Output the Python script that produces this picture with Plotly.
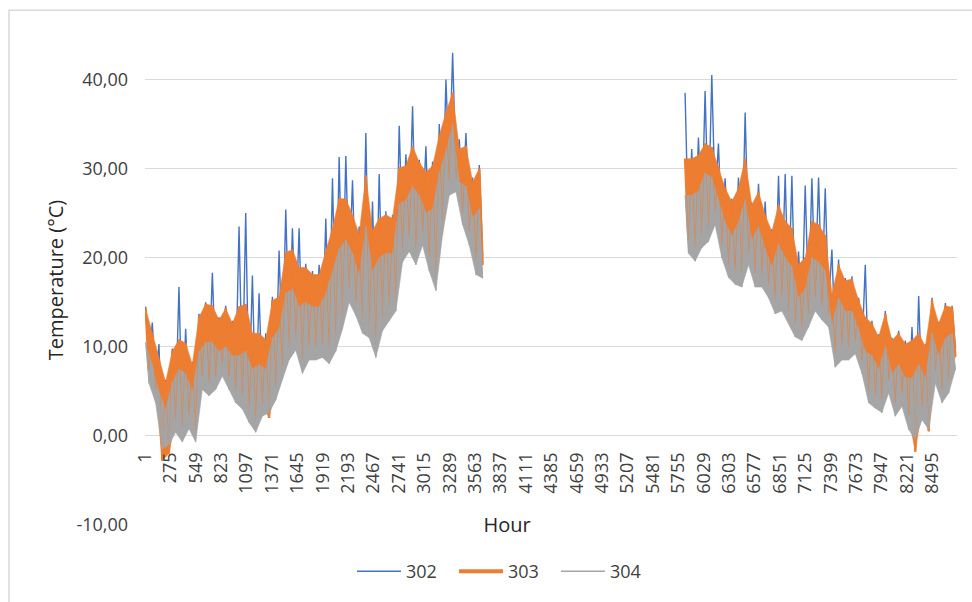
import plotly.graph_objects as go

# ---- data: per 72-hour block, upper and lower envelope ----
BLOCK = 72
seg1_start = 1
seg2_start = 5821

seg1_302_max = [14.5, 12.7, 10.3, 6.3, 9.8, 16.7, 12.0, 8.3, 13.7, 15.0, 18.3, 13.3, 14.6, 12.9, 23.5, 25.0, 18.0, 16.0, 11.5, 15.6,
                20.8, 25.4, 23.3, 23.3, 19.3, 18.5, 19.2, 24.4, 28.9, 31.3, 31.4, 28.7, 23.5, 34.0, 26.3, 29.4, 25.2, 24.8, 34.8, 31.6,
                37.0, 31.0, 32.5, 30.8, 35.0, 40.0, 43.0, 33.3, 34.0, 29.0, 30.4]
seg1_302_min = [8.4, 6.2, -1.5, -0.5, 2.9, 1.8, 3.3, 1.8, 7.7, 7.0, 7.7, 9.2, 7.7, 6.2, 5.5, 4.0, 2.9, 4.7, 3.6, 6.5,
                8.8, 11.0, 12.1, 9.5, 11.0, 11.0, 11.3, 10.6, 12.0, 14.5, 17.5, 16.0, 14.0, 13.5, 11.3, 14.3, 15.4, 16.5, 22.0, 23.2,
                21.7, 23.9, 21.0, 18.8, 25.1, 29.5, 29.9, 26.2, 23.9, 20.6, 20.2]
seg1_303_max = [14.3, 11.5, 8.5, 6.0, 9.5, 10.8, 10.4, 8.0, 13.3, 14.8, 14.6, 13.0, 14.3, 12.6, 14.5, 14.8, 11.5, 11.5, 10.8, 15.2,
                15.6, 20.6, 20.9, 18.9, 18.9, 18.1, 18.1, 20.7, 23.3, 26.6, 26.6, 24.8, 22.6, 29.2, 23.0, 24.4, 24.8, 24.4, 30.1, 30.3,
                32.5, 30.7, 29.6, 30.3, 33.7, 36.3, 38.5, 32.2, 32.5, 28.5, 30.0]
seg1_303_min = [7.4, 5.2, -2.8, -2.0, 1.9, 0.8, 2.3, 0.8, 6.7, 6.0, 6.7, 8.2, 6.7, 5.2, 4.5, 3.0, 1.9, 3.7, 2.0, 5.5,
                7.8, 10.0, 11.1, 8.5, 10.0, 10.0, 10.3, 9.6, 11.0, 13.5, 16.5, 15.0, 13.0, 12.5, 10.3, 13.3, 14.4, 15.5, 21.0, 22.2,
                20.7, 22.9, 20.0, 17.8, 24.1, 28.5, 28.9, 25.2, 22.9, 19.6, 19.2]
seg1_304_max = [10.5, 8.0, 5.0, 3.0, 6.0, 7.5, 7.0, 5.0, 9.5, 10.5, 10.5, 9.5, 10.0, 9.0, 9.0, 9.5, 7.5, 8.0, 7.5, 11.0,
                12.0, 16.0, 16.5, 14.5, 15.0, 14.5, 14.5, 16.0, 18.5, 21.0, 22.0, 20.5, 18.0, 23.5, 18.5, 20.0, 20.5, 20.5, 26.0, 26.5,
                28.0, 27.0, 25.0, 25.5, 29.5, 32.0, 35.0, 28.5, 28.0, 24.5, 25.5]
seg1_304_min = [5.9, 3.7, -1.5, -1.0, 0.4, -0.7, 0.8, -0.7, 5.2, 4.5, 5.2, 6.7, 5.2, 3.7, 3.0, 1.5, 0.4, 2.2, 2.6, 4.0,
                6.3, 8.5, 9.6, 7.0, 8.5, 8.5, 8.8, 8.1, 9.5, 12.0, 15.0, 13.5, 11.5, 11.0, 8.8, 11.8, 12.9, 14.0, 19.5, 20.7,
                19.2, 21.4, 18.5, 16.3, 22.6, 27.0, 27.4, 23.7, 21.4, 18.1, 17.7]

seg2_302_max = [38.5, 32.2, 33.5, 38.7, 40.5, 32.8, 28.9, 26.6, 29.0, 36.3, 26.2, 28.3, 26.3, 23.2, 29.2, 29.4, 29.2, 20.7, 28.1, 28.9,
                29.0, 27.8, 20.9, 19.8, 17.7, 17.9, 15.5, 19.2, 12.9, 11.4, 14.0, 11.0, 11.8, 10.7, 12.2, 15.7, 10.3, 15.5, 12.8, 14.9,
                14.6]
seg2_302_min = [23.0, 22.1, 23.6, 24.3, 26.2, 22.5, 20.3, 19.5, 19.2, 21.7, 19.2, 19.2, 18.0, 16.2, 16.5, 15.1, 13.6, 13.2, 14.7, 16.5,
                15.5, 14.7, 10.2, 11.0, 11.0, 11.7, 9.5, 6.2, 5.6, 5.1, 7.3, 4.7, 5.8, 3.2, 1.5, 4.3, 1.5, 8.4, 6.2, 7.3,
                9.9]
seg2_303_max = [31.1, 31.1, 31.5, 32.8, 32.4, 30.2, 27.8, 26.3, 27.8, 31.1, 25.9, 27.4, 24.8, 22.9, 25.9, 24.1, 23.3, 19.2, 20.0, 24.1,
                23.7, 22.5, 15.9, 19.2, 17.4, 17.6, 15.2, 13.3, 12.6, 11.1, 13.7, 10.7, 11.5, 10.3, 10.7, 11.5, 10.0, 15.2, 12.6, 14.6,
                14.4]
seg2_303_min = [22.0, 21.1, 22.6, 23.3, 25.2, 21.5, 19.3, 18.5, 18.2, 20.7, 18.2, 18.2, 17.0, 15.2, 15.5, 14.1, 12.6, 12.2, 13.7, 15.5,
                14.5, 13.7, 9.2, 10.0, 10.0, 10.7, 8.5, 5.2, 4.6, 4.1, 6.3, 3.7, 4.8, 2.2, -1.8, 3.3, 0.5, 7.4, 5.2, 6.3,
                8.9]
seg2_304_max = [27.0, 27.0, 27.5, 29.5, 29.0, 26.5, 24.0, 22.5, 24.0, 26.5, 22.0, 23.5, 21.0, 19.0, 21.5, 20.0, 19.0, 15.5, 16.5, 20.0,
                19.5, 18.5, 12.5, 15.5, 14.0, 14.0, 12.0, 9.5, 9.0, 7.5, 10.0, 7.0, 8.0, 6.5, 6.5, 8.0, 6.5, 11.5, 9.0, 11.0,
                11.5]
seg2_304_min = [20.5, 19.6, 21.1, 21.8, 23.7, 20.0, 17.8, 17.0, 16.7, 19.2, 16.7, 16.7, 15.5, 13.7, 14.0, 12.6, 11.1, 10.7, 12.2, 14.0,
                13.0, 12.2, 7.7, 8.5, 8.5, 9.2, 7.0, 3.7, 3.1, 2.6, 4.8, 2.2, 3.3, 0.7, -0.4, 1.8, 0.7, 5.9, 3.7, 4.8,
                7.4]

series_names = ["302", "303", "304"]
series_colors = ["#4472C4", "#ED7D31", "#A5A5A5"]
legend_widths = [1.3, 4, 1.3]

x_tick_vals = list(range(1, 8761, 274))
y_tick_vals = [-10, 0, 10, 20, 30, 40]
y_tick_text = ["-10,00", "0,00", "10,00", "20,00", "30,00", "40,00"]

MAX_OFF, MIN_OFF = 6, 42


def zigzag(start, maxs, mins):
    xs, ys = [], []
    for i, (hi, lo) in enumerate(zip(maxs, mins)):
        s = start + BLOCK * i
        xs += [s + MAX_OFF, s + MIN_OFF]
        ys += [hi, lo]
    return xs, ys


def band(start, maxs, mins):
    xu = [start + BLOCK * i + MAX_OFF for i in range(len(maxs))]
    xl = [start + BLOCK * i + MIN_OFF for i in range(len(mins))]
    return xu + xl[::-1], list(maxs) + list(mins)[::-1]


seg_data = {
    "302": (seg1_302_max, seg1_302_min, seg2_302_max, seg2_302_min),
    "303": (seg1_303_max, seg1_303_min, seg2_303_max, seg2_303_min),
    "304": (seg1_304_max, seg1_304_min, seg2_304_max, seg2_304_min),
}
colors = dict(zip(series_names, series_colors))


def zz_trace(name, width, opacity=1.0):
    a_max, a_min, b_max, b_min = seg_data[name]
    x1, y1 = zigzag(seg1_start, a_max, a_min)
    x2, y2 = zigzag(seg2_start, b_max, b_min)
    return go.Scatter(x=x1 + [None] + x2, y=y1 + [None] + y2, mode="lines",
                      line=dict(color=colors[name], width=width), opacity=opacity,
                      connectgaps=False, showlegend=False, hoverinfo="skip")


def band_traces(name):
    a_max, a_min, b_max, b_min = seg_data[name]
    out = []
    for start, mx, mn in ((seg1_start, a_max, a_min), (seg2_start, b_max, b_min)):
        bx, by = band(start, mx, mn)
        out.append(go.Scatter(x=bx, y=by, mode="lines", fill="toself", fillcolor=colors[name],
                              line=dict(color=colors[name], width=0.6), showlegend=False,
                              hoverinfo="skip"))
    return out


fig = go.Figure()
# 302: thin spiky line underneath
fig.add_trace(zz_trace("302", 1.4))
# 303: band + its own line
for t in band_traces("303"):
    fig.add_trace(t)
fig.add_trace(zz_trace("303", 2.4))
# 304: band on top
for t in band_traces("304"):
    fig.add_trace(t)
# hourly streak texture of 303 inside the grey band, then 304's own line
fig.add_trace(zz_trace("303", 1.0, opacity=0.6))
fig.add_trace(zz_trace("304", 1.0))

# legend entries
for name, w in zip(series_names, legend_widths):
    fig.add_trace(go.Scatter(x=[None], y=[None], mode="lines", name=name,
                             line=dict(color=colors[name], width=w)))

fig.update_layout(
    width=972, height=602,
    margin=dict(l=145, r=15, t=35, b=72),
    paper_bgcolor="white", plot_bgcolor="white",
    font=dict(family="Open Sans", size=18, color="#404040"),
    showlegend=True,
    legend=dict(orientation="h", x=(505 - 145) / 812, xanchor="center", y=-0.095, yanchor="middle",
                font=dict(size=18, color="#404040"), bgcolor="rgba(0,0,0,0)",
                entrywidth=43, entrywidthmode="pixels", itemwidth=44),
    xaxis=dict(range=[0.5, 8760.5], tickmode="array", tickvals=x_tick_vals,
               ticktext=[str(v) for v in x_tick_vals], tickangle=-90,
               anchor="free", position=10 / 55, showgrid=False, zeroline=False,
               showline=False, ticks="", ticklabelstandoff=12,
               tickfont=dict(size=18, color="#404040")),
    yaxis=dict(range=[-10.02, 45], tickmode="array", tickvals=y_tick_vals, ticktext=y_tick_text,
               showgrid=True, gridcolor="#D9D9D9", gridwidth=1.3, zeroline=False,
               showline=False, ticks="", anchor="free", position=0, ticklabelstandoff=17,
               tickfont=dict(size=18, color="#404040"),
               title=dict(text="Temperature (°C)", font=dict(size=20, color="#262626"), standoff=6)),
    annotations=[dict(text="Hour", xref="paper", yref="y", x=(507 - 145) / 812, y=-10,
                      showarrow=False, font=dict(size=20, color="#262626"),
                      bgcolor="white", borderpad=4, xanchor="center", yanchor="middle",
                      width=72)],
    shapes=[dict(type="rect", xref="paper", yref="paper",
                 x0=(9 - 145) / 812, x1=(985 - 145) / 812,
                 y0=(530 - 615) / 495, y1=(530 - 10) / 495,
                 line=dict(color="#D9D9D9", width=1.5), fillcolor="rgba(0,0,0,0)", layer="below")],
)

fig.write_html("out.html")
